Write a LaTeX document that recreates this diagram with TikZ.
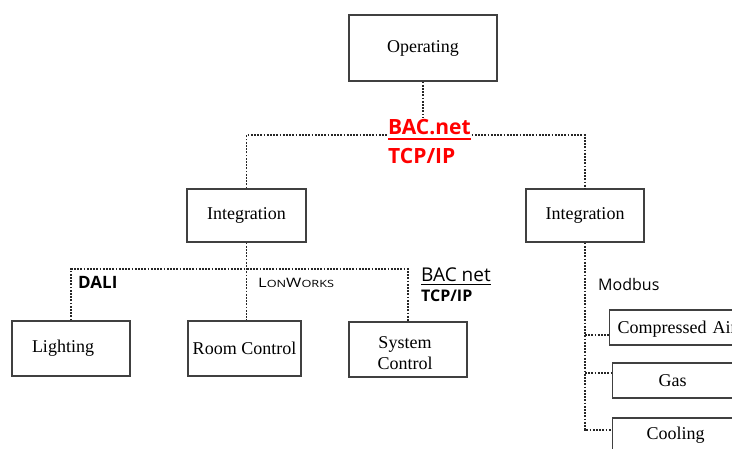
\documentclass[tikz,border=0pt]{standalone}
\usepackage{fontspec}
\setmainfont{Liberation Serif}
\newfontfamily\osans{Open Sans}
\tikzset{
  box/.style={draw=black!75, line width=1.3pt, fill=white, inner sep=0pt,
    font=\fontsize{18}{21}\selectfont, align=center},
  dotline/.style={draw=black!85, line width=1.8pt, dash pattern=on 1.8pt off 1.4pt},
  lbl/.style={anchor=base west, inner sep=0pt}
}
\begin{document}
\begin{tikzpicture}[x=1pt,y=-1pt]
\useasboundingbox (0,0) rectangle (732,449);
\begin{scope}
\clip (0,0) rectangle (732,449);
% boxes
\node[box, minimum width=148pt, minimum height=66pt] (op) at (423,48) {Operating};
\node[box, minimum width=119pt, minimum height=53pt] (int1) at (246.5,215.5) {Integration};
\node[box, minimum width=118pt, minimum height=53pt] (int2) at (585,215.5) {Integration};
\node[box, minimum width=118pt, minimum height=55pt] (light) at (71,348.5) {\hspace*{-16pt}Lighting};
\node[box, minimum width=113pt, minimum height=55pt] (room) at (244.5,348.5) {Room Control};
\node[box, minimum width=118pt, minimum height=55pt,
  label={[font=\fontsize{18}{21}\selectfont, align=center, inner sep=0pt, xshift=-3pt, yshift=-4pt]center:System\\Control}] (sys) at (408,349.5) {};
\node[box, anchor=west, minimum height=35pt, inner xsep=8pt, text width=150pt, align=left, text height=16.5pt, text depth=4pt] (comp) at (609,327.5) {Compressed Air};
\node[box, anchor=west, minimum width=120pt, minimum height=35pt] (gas) at (612,380.5) {Gas};
\node[box, anchor=west, minimum width=126pt, minimum height=35pt] (cool) at (612,435.5) {Cooling};
% connectors
\coordinate (b1) at (423,135);
\coordinate (b2) at (246.5,269);
\coordinate (j1) at (585,335);
\coordinate (j2) at (585,373);
\coordinate (j3) at (585,430);
\draw[dotline] (op.south) -- (b1);
\draw[dotline] (int1.north) |- (b1) -| (int2.north);
\draw[dotline] (int1.south) -- (int1.south |- room.north);
\draw[dotline] (light.north) |- (b2) -| (sys.north);
\draw[dotline] (int2.south) -- (j3) -- (j3 -| cool.west);
\draw[dotline] (j1) -- (j1 -| comp.west);
\draw[dotline] (j2) -- (j2 -| gas.west);
% labels
\node[lbl, fill=white, inner ysep=2pt, text=red, font=\osans\bfseries\fontsize{21}{24}\selectfont] (bacR) at (388,135) {BAC.net};
\draw[red, line width=1.5pt] ([yshift=-4pt]bacR.base west) -- ([yshift=-4pt]bacR.base east);
\node[lbl, text=red, font=\osans\bfseries\fontsize{21}{24}\selectfont] (tcpR) at (388,164) {TCP/IP};
\node[lbl, font=\osans\fontsize{19}{22}\selectfont] (bacK) at (421,282) {BAC net};
\draw[black, line width=1pt] ([yshift=-2.5pt]bacK.base west) -- ([yshift=-2.5pt]bacK.base east);
\node[lbl, font=\osans\bfseries\fontsize{16}{19}\selectfont] (tcpK) at (421,302) {TCP/IP};
\node[lbl, font=\osans\bfseries\fontsize{17}{20}\selectfont] (dali) at (78,289) {DALI};
\node[lbl] (lon) at (258,288) {\scalebox{1.27}[1]{\osans{\fontsize{13}{15}\selectfont L}{\fontsize{10}{12}\selectfont ON}{\fontsize{13}{15}\selectfont W}{\fontsize{10}{12}\selectfont ORKS}}};
\node[lbl, font=\osans\fontsize{16}{19}\selectfont] (mod) at (598,291) {Modbus};
\end{scope}
\end{tikzpicture}
\end{document}
